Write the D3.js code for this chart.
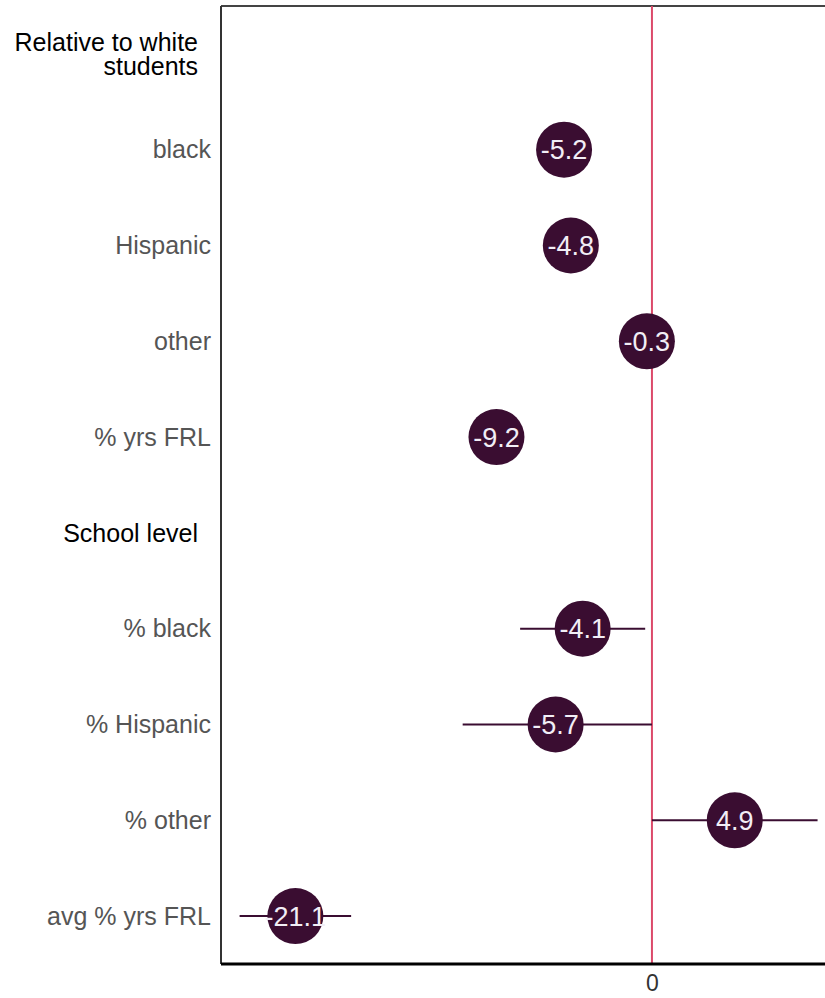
<!DOCTYPE html>
<html><head><meta charset="utf-8">
<script src="https://cdn.jsdelivr.net/npm/d3@7"></script>
<style>body{margin:0;background:#fff}svg{display:block}</style>
</head><body><div id="chart"></div>
<script>
const rows = ["Relative to white students","black","Hispanic","other","% yrs FRL","School level","% black","% Hispanic","% other","avg % yrs FRL"];
const isHeader = [true,false,false,false,false,true,false,false,false,false];
const estimates = [null,-5.2,-4.8,-0.3,-9.2,null,-4.1,-5.7,4.9,-21.1];
const ciLow  = [null,-5.8,-5.4,-1.0,-9.8,null,-7.8,-11.2,0.0,-24.4];
const ciHigh = [null,-4.6,-4.2,0.4,-8.6,null,-0.4,0.0,9.8,-17.8];
const xTicks = [0];

const W=825,H=998;
const m={left:221,top:6,right:0,bottom:34};
const svg=d3.select("#chart").append("svg").attr("width",W).attr("height",H);
const x=d3.scaleLinear().domain([-25.5,10.24]).range([m.left,W]);
const y=d3.scaleBand().domain(rows).range([m.top,H-m.bottom]);
const cy=r=>y(r)+y.bandwidth()/2;
const dark="#3a0d31";
const font="Arial, 'Liberation Sans', sans-serif";

// frame
svg.append("line").attr("x1",m.left).attr("x2",W).attr("y1",m.top).attr("y2",m.top).attr("stroke","#444").attr("stroke-width",2);
svg.append("line").attr("x1",m.left).attr("x2",m.left).attr("y1",m.top).attr("y2",H-m.bottom).attr("stroke","#333").attr("stroke-width",2);

// zero line
svg.append("line").attr("x1",x(0)).attr("x2",x(0)).attr("y1",m.top).attr("y2",H-m.bottom).attr("stroke","#dc4a6a").attr("stroke-width",2);

// x axis
const ax=svg.append("g").attr("transform",`translate(0,${H-m.bottom})`)
 .call(d3.axisBottom(x).tickValues(xTicks).tickSize(0).tickPadding(11).tickFormat(d3.format("d")));
ax.select(".domain").attr("stroke","#000").attr("stroke-width",3).attr("d",`M${m.left},0H${W}`);
ax.selectAll("text").attr("font-family",font).attr("font-size",23).attr("fill","#333");

// labels
const lab=svg.append("g").attr("font-family",font).attr("font-size",25).attr("text-anchor","end");
rows.forEach((r,i)=>{
  if(isHeader[i]){
    const words = r==="Relative to white students" ? ["Relative to white","students"] : [r];
    const t=lab.append("text").attr("fill","#000");
    words.forEach((w,k)=>{
      t.append("tspan").attr("x",198).attr("y",cy(r)+(k-(words.length-1)/2)*24).attr("dy","0.35em").text(w);
    });
  } else {
    lab.append("text").attr("x",211).attr("y",cy(r)).attr("dy","0.35em").attr("fill","#555").text(r);
  }
});

// CI lines and points
const g=svg.append("g");
rows.forEach((r,i)=>{
  if(estimates[i]===null) return;
  g.append("line").attr("x1",x(ciLow[i])).attr("x2",x(ciHigh[i])).attr("y1",cy(r)).attr("y2",cy(r)).attr("stroke",dark).attr("stroke-width",2);
  g.append("circle").attr("cx",x(estimates[i])).attr("cy",cy(r)).attr("r",28).attr("fill",dark);
  g.append("text").attr("x",x(estimates[i])).attr("y",cy(r)).attr("dy","0.36em").attr("text-anchor","middle")
   .attr("font-family",font).attr("font-size",27).attr("fill","#f2eef6")
   .text(estimates[i].toFixed(1));
});
</script></body></html>
